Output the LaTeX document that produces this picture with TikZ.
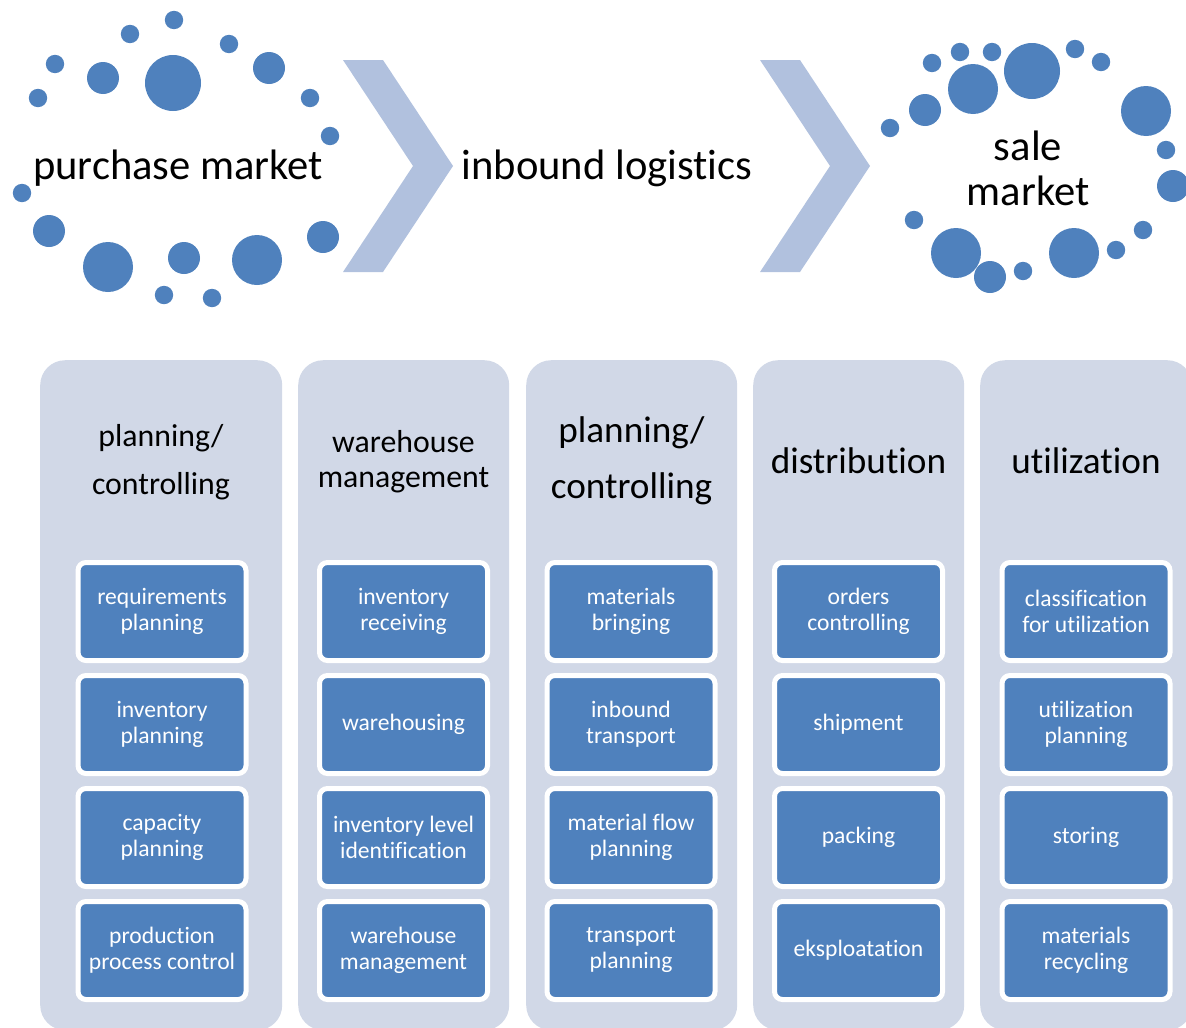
\documentclass[tikz,border=0pt]{standalone}
\usepackage{fontspec}
\setmainfont{Carlito}[Ligatures={NoCommon}]
\definecolor{dotblue}{HTML}{4F81BD}
\definecolor{chev}{HTML}{B1C1DE}
\definecolor{colbg}{HTML}{D1D8E7}
\begin{document}
\begin{tikzpicture}[x=1pt,y=-1pt,
  dot/.style={fill=dotblue},
  chevron/.style={fill=chev},
  column/.style={fill=colbg, rounded corners=25pt, inner sep=0pt, minimum height=670pt, anchor=north west},
  item/.style={draw=white, line width=5pt, fill=dotblue, rounded corners=8pt, minimum width=168pt, minimum height=98pt, text=white, align=center, inner sep=0pt, font=\fontsize{23.6}{26}\selectfont},
  bigtitle/.style={align=center, font=\fontsize{42.6}{45}\selectfont},
  titleA/.style={align=center, font=\fontsize{31.8}{48}\selectfont},
  titleB/.style={align=center, font=\fontsize{31.8}{35}\selectfont},
  titleC/.style={align=center, font=\fontsize{37.2}{56}\selectfont},
]
\useasboundingbox (0,0) rectangle (1186,1028);
\begin{scope}
\clip (0,0) rectangle (1186,1028);
% purchase market dots
\foreach \x/\y/\r in {174/20/9.2, 130/34/9.2, 229/44/9.2, 55/64/9.2, 103/78/16, 173/83/28, 269/68/16, 38/98/9.2, 310/98/9.2, 330/136/9.2, 22/193/9.2, 49/231/16, 108/267/25, 184/258/16, 257/260/25, 323/237/16, 164/295/9.2, 212/298/9.2}
  \fill[dot] (\x,\y) circle[radius=\r];
% sale market dots
\foreach \x/\y/\r in {932/63/9.2, 960/52/9.2, 992/52/9.2, 973/89/25, 1032/71/28, 1075/49/9.2, 1101/62/9.2, 925/110/16, 890/128/9.2, 1146/111/25, 1166/150/9.2, 1173/186/16, 914/220/9.2, 956/253/25, 990/277/16, 1023/271/9.2, 1074/253/25, 1116/250/9.2, 1143/230/9.2}
  \fill[dot] (\x,\y) circle[radius=\r];
% chevrons
\fill[chevron] (343,60) -- (383,60) -- (453,166) -- (383,272) -- (343,272) -- (413,166) -- cycle;
\fill[chevron] (760,60) -- (800,60) -- (870,166) -- (800,272) -- (760,272) -- (830,166) -- cycle;
\node[bigtitle] (pm) at (178,168) {purchase market};
\node[bigtitle] (il) at (607,168) {inbound logistics};
\node[bigtitle] (sm) at (1028,168) {sale\\market};
% columns
\node[column, minimum width=242pt] (c1) at (40,360) {};
\node[column, minimum width=211pt] (c2) at (298,360) {};
\node[column, minimum width=211pt] (c3) at (526,360) {};
\node[column, minimum width=211pt] (c4) at (753,360) {};
\node[column, minimum width=212pt] (c5) at (980,360) {};
\end{scope}
% titles
\node[titleA] (t1) at (161,462) {planning/\\controlling};
\node[titleB] (t2) at (403.5,462) {warehouse\\management};
\node[titleC] (t3) at (631.5,461) {planning/\\controlling};
\node[titleC] (t4) at (858.5,461) {distribution};
\node[titleC] (t5) at (1086,461) {utilization};
% items
\foreach \cx/\col in {162/1, 403.5/2, 631/3, 858.5/4, 1086/5} {
  \foreach \cy/\row in {611.5/1, 724.5/2, 837.5/3, 950.5/4} {
    \coordinate (p\col\row) at (\cx,\cy);
  }
}
\node[item] (b11) at (p11) {requirements\\planning};
\node[item] (b12) at (p12) {inventory\\planning};
\node[item] (b13) at (p13) {capacity\\planning};
\node[item] (b14) at (p14) {production\\process control};
\node[item] (b21) at (p21) {inventory\\receiving};
\node[item] (b22) at (p22) {warehousing};
\node[item] (b23) at (p23) {inventory level\\identification};
\node[item] (b24) at (p24) {warehouse\\management};
\node[item] (b31) at (p31) {materials\\bringing};
\node[item] (b32) at (p32) {inbound\\transport};
\node[item] (b33) at (p33) {material flow\\planning};
\node[item] (b34) at (p34) {transport\\planning};
\node[item] (b41) at (p41) {orders\\controlling};
\node[item] (b42) at (p42) {shipment};
\node[item] (b43) at (p43) {packing};
\node[item] (b44) at (p44) {eksploatation};
\node[item] (b51) at (p51) {classification\\for utilization};
\node[item] (b52) at (p52) {utilization\\planning};
\node[item] (b53) at (p53) {storing};
\node[item] (b54) at (p54) {materials\\recycling};
\end{tikzpicture}
\end{document}
